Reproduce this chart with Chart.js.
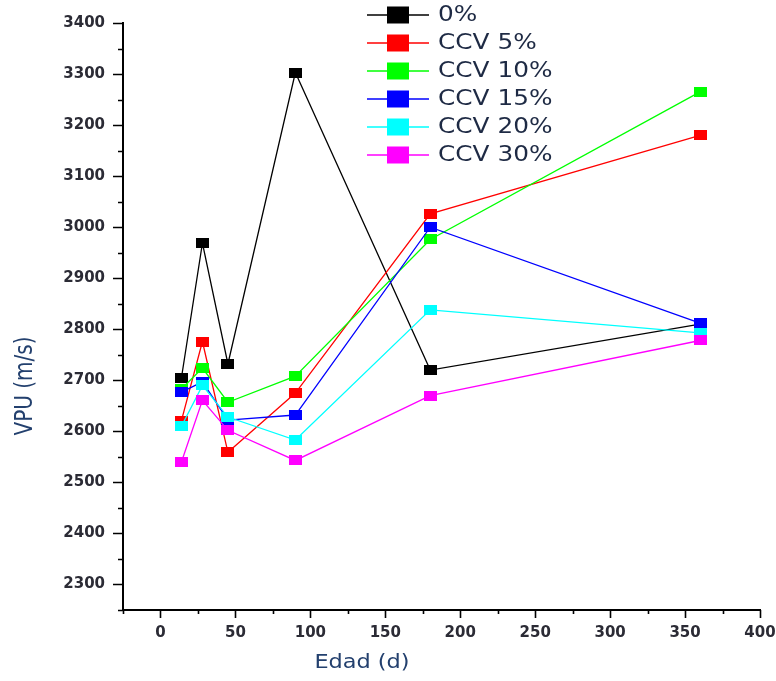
<!DOCTYPE html>
<html>
<head>
<meta charset="utf-8">
<title>VPU vs Edad</title>
<script src="https://cdn.jsdelivr.net/npm/chart.js@4/dist/chart.umd.min.js"></script>
<style>
  html, body { margin: 0; padding: 0; background: #fff; }
  canvas { display: block; }
</style>
</head>
<body>
<canvas id="c" width="776" height="681"></canvas>
<script>
// Age of the specimens (days)
const edad = [14, 28, 45, 90, 180, 360];

// Ultrasonic pulse velocity (m/s) for each mix
const vpu0   = [2705, 2969, 2732, 3303, 2720, 2810];
const vpu5   = [2621, 2776, 2559, 2675, 3026, 3180];
const vpu10  = [2683, 2724, 2657, 2708, 2976, 3265];
const vpu15  = [2677, 2697, 2622, 2632, 3000, 2812];
const vpu20  = [2610, 2690, 2628, 2583, 2838, 2793];
const vpu30  = [2540, 2661, 2602, 2543, 2670, 2778];

const seriesNames  = ['0%', 'CCV 5%', 'CCV 10%', 'CCV 15%', 'CCV 20%', 'CCV 30%'];
const seriesValues = [vpu0, vpu5, vpu10, vpu15, vpu20, vpu30];
const seriesColors = ['#000000', '#ff0000', '#00ff00', '#0000ff', '#00ffff', '#ff00ff'];

// Axis ranges
const xMin = -25, xMax = 400, xStep = 25, xLabelStep = 50;
const yMin = 2250, yMax = 3400, yStep = 50, yLabelStep = 100;

const xTitle = 'Edad (d)';
const yTitle = 'VPU (m/s)';

// Small filled rectangle used as the point marker
function marker(color, w, h) {
  const c = document.createElement('canvas');
  c.width = w; c.height = h;
  const g = c.getContext('2d');
  g.fillStyle = color;
  g.fillRect(0, 0, w, h);
  return c;
}

const datasets = seriesNames.map((name, i) => ({
  label: name,
  data: edad.map((d, k) => ({ x: d, y: seriesValues[i][k] })),
  borderColor: seriesColors[i],
  backgroundColor: seriesColors[i],
  borderWidth: 1.3,
  pointStyle: marker(seriesColors[i], 13, 10),
  pointRadius: 6,
  tension: 0,
  order: seriesNames.length - i,
  clip: false
}));

function wideText(ctx, text, x, y, sx, align) {
  ctx.save();
  ctx.translate(x, y);
  ctx.scale(sx, 1);
  ctx.textAlign = align;
  ctx.textBaseline = 'middle';
  ctx.fillText(text, 0, 0);
  ctx.restore();
}

// Outward major/minor tick marks, axis titles and the legend box
const decorations = {
  id: 'decorations',
  afterDraw(chart) {
    const { ctx, chartArea: a, scales } = chart;
    const xs = scales.x, ys = scales.y;
    ctx.save();
    ctx.strokeStyle = '#000';
    ctx.lineWidth = 1.6;
    ctx.beginPath();
    xs.ticks.forEach(t => {
      const px = Math.round(xs.getPixelForValue(t.value)) + 0.5;
      const len = (t.value % xLabelStep === 0) ? 8 : 4;
      ctx.moveTo(px, a.bottom);
      ctx.lineTo(px, a.bottom + len);
    });
    ys.ticks.forEach(t => {
      const py = Math.round(ys.getPixelForValue(t.value)) + 0.5;
      const len = (t.value % yLabelStep === 0) ? 10 : 5;
      ctx.moveTo(a.left, py);
      ctx.lineTo(a.left - len, py);
    });
    ctx.stroke();

    // Axis titles
    ctx.fillStyle = '#23406e';
    ctx.font = '20px "DejaVu Sans"';
    wideText(ctx, xTitle, 362, 663, 1.12, 'center');
    ctx.save();
    ctx.translate(26, 386);
    ctx.scale(1.2, 1);
    ctx.rotate(-Math.PI / 2);
    ctx.textAlign = 'center';
    ctx.textBaseline = 'middle';
    ctx.fillText(yTitle, 0, 0);
    ctx.restore();

    // Legend
    const lx0 = 367, lx1 = 429, mx = 398, tx = 438, top = 15, step = 28;
    chart.data.datasets.forEach((ds, i) => {
      const cy = top + i * step;
      ctx.strokeStyle = ds.borderColor;
      ctx.lineWidth = 1.6;
      ctx.beginPath();
      ctx.moveTo(lx0, cy);
      ctx.lineTo(lx1, cy);
      ctx.stroke();
      ctx.fillStyle = ds.backgroundColor;
      ctx.fillRect(mx - 11, cy - 8.5, 22, 17);
      ctx.fillStyle = '#1e2a44';
      ctx.font = '21px "DejaVu Sans"';
      wideText(ctx, ds.label, tx, cy + 1, 1.18, 'left');
    });
    ctx.restore();
  }
};

new Chart(document.getElementById('c'), {
  type: 'line',
  data: { datasets },
  plugins: [decorations],
  options: {
    responsive: false,
    animation: false,
    devicePixelRatio: 1,
    layout: { padding: { top: 23, right: 16, left: 0, bottom: 0 } },
    plugins: { legend: { display: false }, tooltip: { enabled: false } },
    scales: {
      x: {
        type: 'linear',
        min: xMin, max: xMax,
        afterFit: s => { s.height = 71; s.paddingLeft = 0; s.paddingRight = 0; },
        grid: { display: true, drawOnChartArea: false, drawTicks: false },
        border: { display: true, color: '#000', width: 2 },
        ticks: {
          stepSize: xStep,
          autoSkip: false,
          maxRotation: 0,
          padding: 14,
          color: '#2b2b35',
          font: { family: 'DejaVu Sans', size: 15, weight: 'bold' },
          callback: v => (v % xLabelStep === 0 ? String(v) : '')
        }
      },
      y: {
        type: 'linear',
        min: yMin, max: yMax,
        afterFit: s => { s.width = 123; s.paddingTop = 0; s.paddingBottom = 0; },
        grid: { display: true, drawOnChartArea: false, drawTicks: false },
        border: { display: true, color: '#000', width: 2 },
        ticks: {
          stepSize: yStep,
          autoSkip: false,
          padding: 18,
          color: '#2b2b35',
          font: { family: 'DejaVu Sans', size: 15, weight: 'bold' },
          callback: v => (v % yLabelStep === 0 ? String(v) : '')
        }
      }
    }
  }
});
</script>
</body>
</html>
